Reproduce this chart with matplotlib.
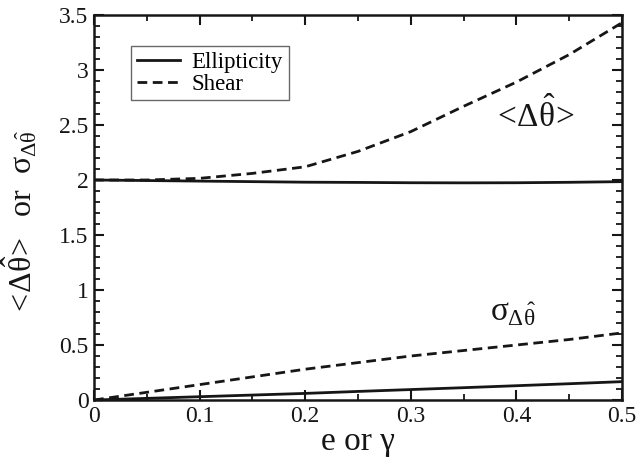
import matplotlib
matplotlib.use("Agg")
import matplotlib.pyplot as plt
from matplotlib.ticker import MultipleLocator

plt.rcParams['font.family'] = ['Liberation Serif', 'DejaVu Serif']
plt.rcParams['mathtext.fontset'] = 'custom'
plt.rcParams['mathtext.rm'] = 'Liberation Serif'
plt.rcParams['mathtext.it'] = 'Liberation Serif'
plt.rcParams['mathtext.bf'] = 'Liberation Serif:bold'
plt.rcParams['lines.scale_dashes'] = False

# data
x = [0.0, 0.05, 0.1, 0.15, 0.2, 0.25, 0.3, 0.35, 0.4, 0.45, 0.5]
mean_ellip = [2.0, 1.995, 1.99, 1.985, 1.98, 1.978, 1.975, 1.974, 1.975, 1.979, 1.985]
mean_shear = [2.0, 2.0, 2.015, 2.06, 2.12, 2.26, 2.44, 2.67, 2.89, 3.14, 3.43]
sig_ellip = [0.0, 0.015, 0.03, 0.045, 0.06, 0.078, 0.095, 0.112, 0.13, 0.148, 0.167]
sig_shear = [0.0, 0.07, 0.14, 0.21, 0.28, 0.34, 0.40, 0.45, 0.50, 0.55, 0.61]

xticks = [0, 0.1, 0.2, 0.3, 0.4, 0.5]
xticklabels = ['0', '0.1', '0.2', '0.3', '0.4', '0.5']
yticks = [0, 0.5, 1, 1.5, 2, 2.5, 3, 3.5]
yticklabels = ['0', '0.5', '1', '1.5', '2', '2.5', '3', '3.5']

fig = plt.figure(figsize=(6.37, 4.61), dpi=100)
ax = fig.add_axes([0.1476, 0.1323, 0.8289, 0.8352])

col = '#161616'
lw = 2.0
dash = (7, 4)
ax.plot(x, mean_ellip, color=col, lw=lw, label='Ellipticity')
ax.plot(x, mean_shear, color=col, lw=lw, dashes=dash, label='Shear')
ax.plot(x, sig_ellip, color=col, lw=lw)
ax.plot(x, sig_shear, color=col, lw=lw, dashes=dash)

ax.set_xlim(0, 0.5)
ax.set_ylim(0, 3.5)
ax.set_xticks(xticks)
ax.set_xticklabels(xticklabels)
ax.set_yticks(yticks)
ax.set_yticklabels(yticklabels)
ax.xaxis.set_minor_locator(MultipleLocator(0.05))
ax.yaxis.set_minor_locator(MultipleLocator(0.1))

ax.tick_params(which='both', direction='in', top=True, right=True, labelsize=17,
               colors=col)
ax.tick_params(which='major', length=7.5, width=1.5, pad=4)
ax.tick_params(which='minor', length=4.3, width=1.3)
for s in ax.spines.values():
    s.set_linewidth(1.8)
    s.set_color(col)

mean_txt = r'$<\!\Delta\hat{\theta}\!>$'
ax.set_xlabel('e or γ', fontsize=24, labelpad=0, color=col)
ax.set_ylabel(mean_txt + r'  or  $\sigma_{\Delta\hat{\theta}}$',
              fontsize=23, color=col)
ax.yaxis.set_label_coords(-0.103, 0.46)

ax.text(0.416, 2.59, mean_txt, fontsize=24, ha='center',
        va='center', color=col)
ax.text(0.375, 0.79, r'$\sigma_{\Delta\hat{\theta}}$', fontsize=24, ha='left',
        va='center', color=col)

leg = ax.legend(loc='upper left', bbox_to_anchor=(0.07, 0.92), fontsize=16.5,
                frameon=True, fancybox=False, handlelength=1.9,
                borderaxespad=0, labelspacing=0.05, borderpad=0.25,
                handletextpad=0.5)
leg.get_frame().set_edgecolor('#444444')
leg.get_frame().set_linewidth(1.0)

fig.savefig('out.png', dpi=100)
